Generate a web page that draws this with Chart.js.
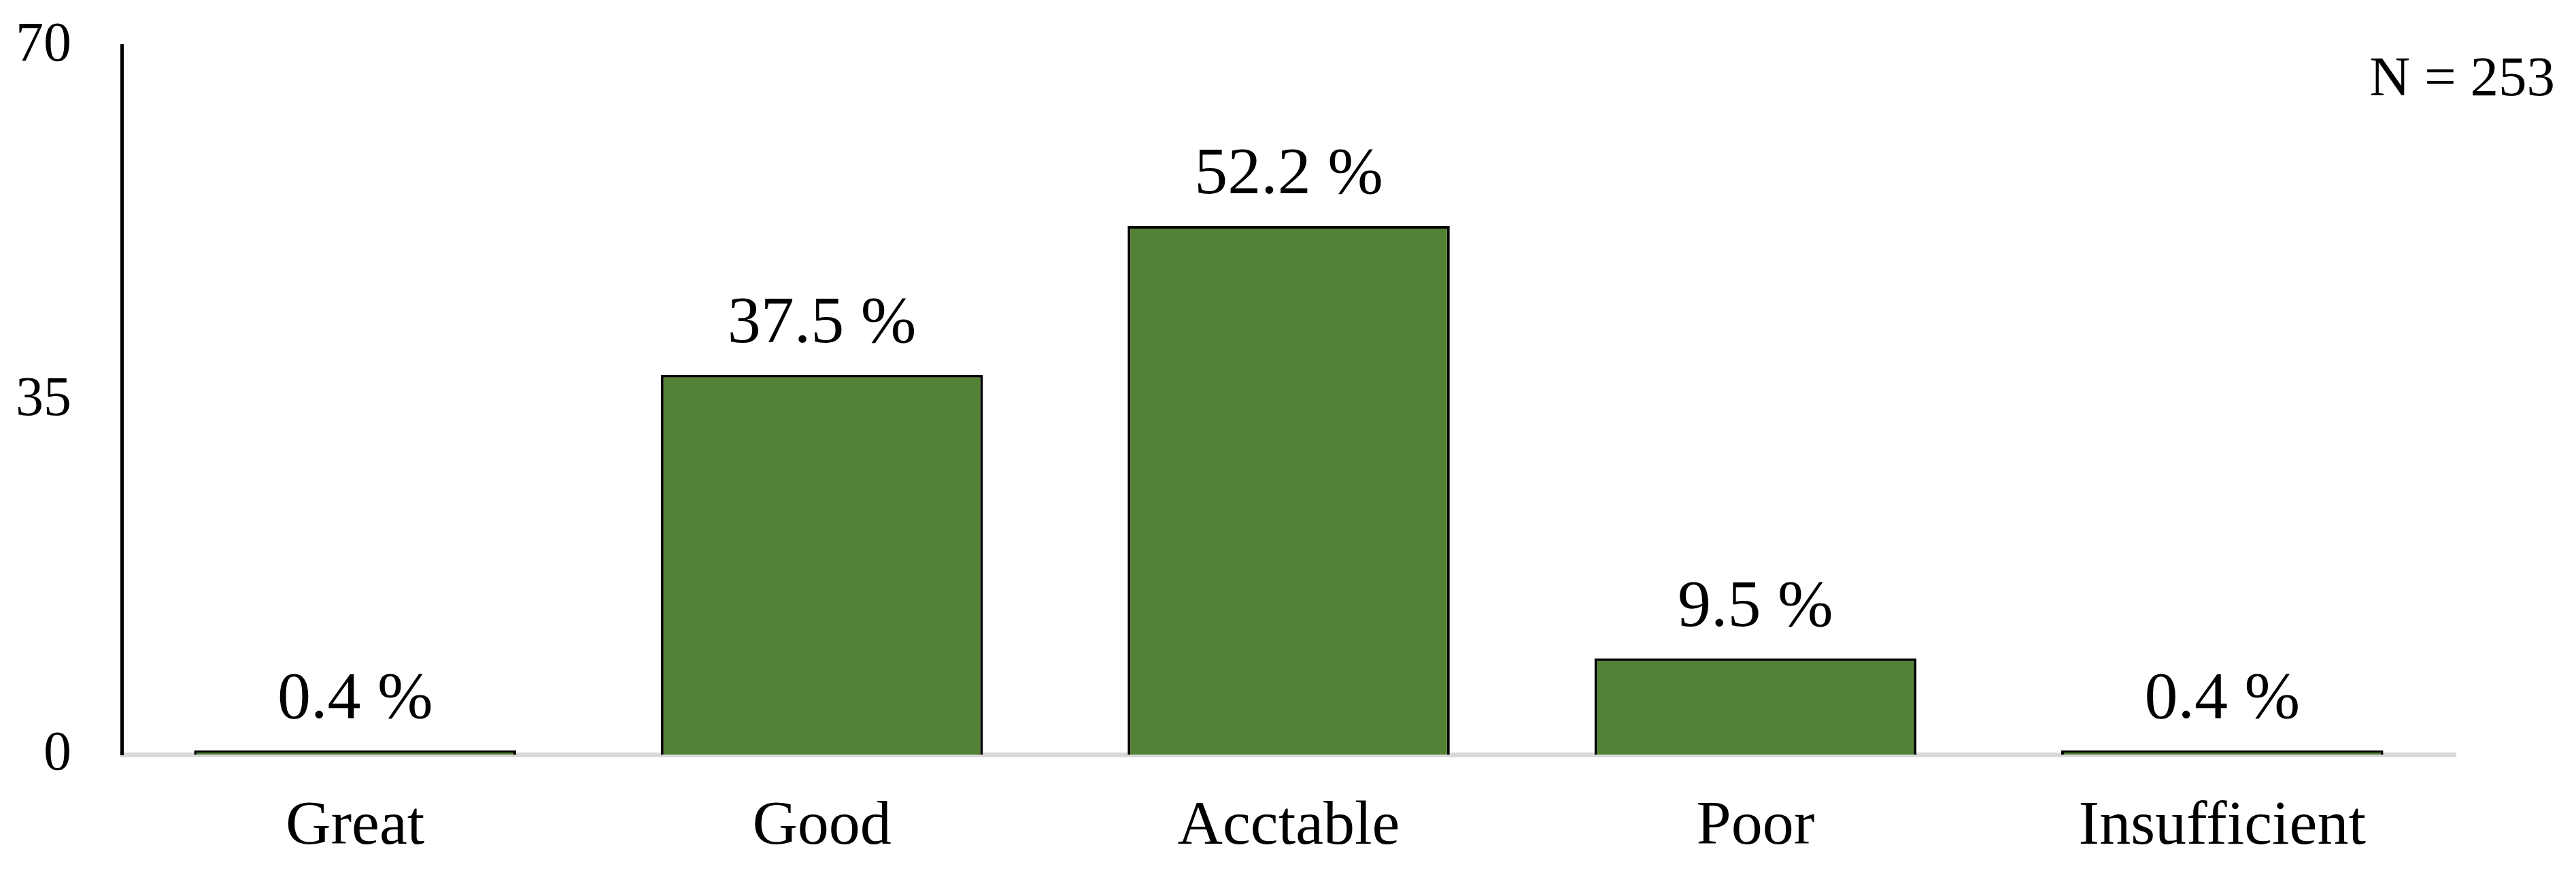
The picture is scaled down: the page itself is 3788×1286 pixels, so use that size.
<!DOCTYPE html>
<html>
<head>
<meta charset="utf-8">
<script src="https://cdn.jsdelivr.net/npm/chart.js@4"></script>
<style>
  body { margin: 0; background: #fff; }
  canvas { display: block; }
</style>
</head>
<body>
<canvas id="myChart" width="3788" height="1286"></canvas>
<script>
const categories = ["Great", "Good", "Acctable", "Poor", "Insufficient"];
const percents = [0.4, 37.5, 52.2, 9.5, 0.4];
const yTicks = [0, 35, 70];
const sampleNote = "N = 253";

const FONT = "'Liberation Serif', 'Times New Roman', serif";

// draws "xx.x %" above each bar and the N note in the corner
const labelsPlugin = {
  id: "barLabels",
  afterDatasetsDraw(chart) {
    const ctx = chart.ctx;
    const meta = chart.getDatasetMeta(0);
    ctx.save();
    ctx.font = "98px " + FONT;
    ctx.fillStyle = "#000";
    ctx.textAlign = "center";
    ctx.textBaseline = "alphabetic";
    meta.data.forEach((bar, i) => {
      ctx.fillText(percents[i].toFixed(1) + " %", bar.x, bar.y - 48);
    });
    ctx.font = "83px " + FONT;
    ctx.textAlign = "right";
    ctx.fillText(sampleNote, chart.width - 31, 140);
    ctx.restore();
  },
};

// no automatic edge padding, the layout padding sets the plot area
function noEdgePadding(axis) {
  axis.paddingTop = 0;
  axis.paddingBottom = 0;
  axis.paddingLeft = 0;
  axis.paddingRight = 0;
}

const ctx = document.getElementById("myChart").getContext("2d");
const myChart = new Chart(ctx, {
  type: "bar",
  data: {
    labels: categories,
    datasets: [
      {
        data: percents,
        backgroundColor: "#538135",
        borderColor: "#000",
        borderWidth: 4,
        borderSkipped: "bottom",
        categoryPercentage: 1,
        barPercentage: 0.69,
      },
    ],
  },
  options: {
    responsive: false,
    animation: false,
    layout: {
      padding: { left: 20, right: 177, top: 67, bottom: 0 },
    },
    plugins: {
      legend: { display: false },
      tooltip: { enabled: false },
    },
    scales: {
      x: {
        afterFit(axis) {
          noEdgePadding(axis);
          axis.height = 177;
        },
        grid: { display: false, drawTicks: false },
        border: { display: true, color: "#d9d9d9", width: 7 },
        ticks: {
          color: "#000",
          padding: 52,
          font: { family: FONT, size: 92 },
        },
      },
      y: {
        min: 0,
        max: 70,
        afterBuildTicks(axis) {
          axis.ticks = yTicks.map((v) => ({ value: v }));
        },
        afterFit(axis) {
          noEdgePadding(axis);
          axis.width = 159;
        },
        grid: { display: false, drawTicks: false },
        border: { display: true, color: "#000", width: 5 },
        ticks: {
          color: "#000",
          padding: 74,
          font: { family: FONT, size: 82 },
        },
      },
    },
  },
  plugins: [labelsPlugin],
});
</script>
</body>
</html>
